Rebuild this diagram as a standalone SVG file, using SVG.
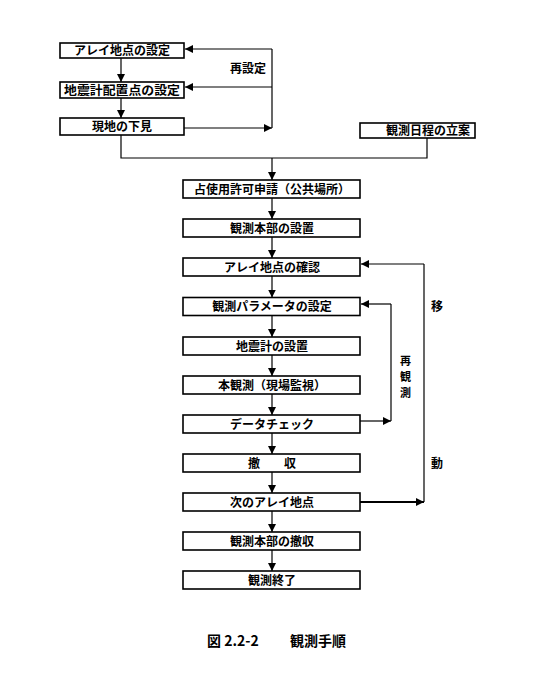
<svg xmlns="http://www.w3.org/2000/svg" width="533" height="686" viewBox="0 0 533 686">
<style>
.box{fill:#fff;stroke:#000;stroke-width:1.6}
.t{font-family:"Noto Sans CJK JP","Noto Sans CJK SC",sans-serif;font-size:12px;font-weight:bold;fill:#000;text-anchor:middle}
.lbl{font-family:"Noto Sans CJK JP","Noto Sans CJK SC",sans-serif;font-size:12px;font-weight:bold;fill:#000}
.v{font-family:"Noto Sans CJK JP","Noto Sans CJK SC",sans-serif;font-size:11px;font-weight:bold;fill:#000}
.ln{fill:none;stroke:#000;stroke-width:1.2}
</style>
<defs>
<marker id="ah" markerUnits="userSpaceOnUse" markerWidth="8" markerHeight="8" viewBox="0 0 8 8" refX="8" refY="4" orient="auto">
<path d="M0,0 L8,4 L0,8 Z" fill="#000"/>
</marker>
</defs>
<rect width="533" height="686" fill="#fff"/>
<g id="connectors">
<line class="ln" x1="121" y1="58" x2="121" y2="82" marker-end="url(#ah)"/>
<line class="ln" x1="121" y1="98" x2="121" y2="118" marker-end="url(#ah)"/>
<polyline class="ln" points="272,49 272,128"/>
<line class="ln" x1="272" y1="49" x2="185" y2="49" marker-end="url(#ah)"/>
<line class="ln" x1="272" y1="87" x2="185" y2="87" marker-end="url(#ah)"/>
<line class="ln" x1="184" y1="128" x2="272" y2="128" marker-end="url(#ah)"/>
<polyline class="ln" points="121,135 121,158 427,158 427,138"/>
<line class="ln" x1="272" y1="158" x2="272" y2="180" marker-end="url(#ah)"/>
<line class="ln" x1="272" y1="198" x2="272" y2="219" marker-end="url(#ah)"/>
<line class="ln" x1="272" y1="237" x2="272" y2="258" marker-end="url(#ah)"/>
<line class="ln" x1="272" y1="276" x2="272" y2="297.5" marker-end="url(#ah)"/>
<line class="ln" x1="272" y1="315.5" x2="272" y2="337" marker-end="url(#ah)"/>
<line class="ln" x1="272" y1="355" x2="272" y2="376" marker-end="url(#ah)"/>
<line class="ln" x1="272" y1="394" x2="272" y2="415" marker-end="url(#ah)"/>
<line class="ln" x1="272" y1="433" x2="272" y2="454" marker-end="url(#ah)"/>
<line class="ln" x1="272" y1="472" x2="272" y2="493" marker-end="url(#ah)"/>
<line class="ln" x1="272" y1="511" x2="272" y2="532" marker-end="url(#ah)"/>
<line class="ln" x1="272" y1="550" x2="272" y2="571" marker-end="url(#ah)"/>
<polyline class="ln" points="391,304 391,421"/>
<line class="ln" x1="391" y1="304" x2="361" y2="304" marker-end="url(#ah)"/>
<line class="ln" x1="360" y1="421" x2="391" y2="421" marker-end="url(#ah)"/>
<polyline class="ln" points="424,264 424,502"/>
<line class="ln" x1="424" y1="264" x2="361" y2="264" marker-end="url(#ah)"/>
<line class="ln" x1="360" y1="502" x2="424" y2="502" marker-end="url(#ah)" style="stroke-width:1.8"/>
</g>
<g id="n1"><rect class="box" x="60" y="43" width="124" height="15"/><text class="t" x="122" y="55">アレイ地点の設定</text></g>
<g id="n2"><rect class="box" x="60" y="82" width="124" height="16"/><text class="t" x="122" y="94.5" textLength="116" lengthAdjust="spacingAndGlyphs">地震計配置点の設定</text></g>
<g id="n3"><rect class="box" x="60" y="118" width="124" height="17"/><text class="t" x="122" y="131">現地の下見</text></g>
<g id="n4"><rect class="box" x="360" y="123" width="115" height="15"/><text class="t" x="428" y="135">観測日程の立案</text></g>
<g id="n5"><rect class="box" x="183" y="180" width="177" height="18"/><text class="t" x="272" y="193.5">占使用許可申請（公共場所）</text></g>
<g id="n6"><rect class="box" x="183" y="219" width="177" height="18"/><text class="t" x="272" y="232.5">観測本部の設置</text></g>
<g id="n7"><rect class="box" x="183" y="258" width="177" height="18"/><text class="t" x="272" y="271.5">アレイ地点の確認</text></g>
<g id="n8"><rect class="box" x="183" y="297.5" width="177" height="18"/><text class="t" x="272" y="311">観測パラメータの設定</text></g>
<g id="n9"><rect class="box" x="183" y="337" width="177" height="18"/><text class="t" x="272" y="350.5">地震計の設置</text></g>
<g id="n10"><rect class="box" x="183" y="376" width="177" height="18"/><text class="t" x="272" y="389.5">本観測（現場監視）</text></g>
<g id="n11"><rect class="box" x="183" y="415" width="177" height="18"/><text class="t" x="272" y="428.5">データチェック</text></g>
<g id="n12"><rect class="box" x="183" y="454" width="177" height="18"/><text class="t" x="272" y="467.5">撤　　収</text></g>
<g id="n13"><rect class="box" x="183" y="493" width="177" height="18"/><text class="t" x="272" y="506.5">次のアレイ地点</text></g>
<g id="n14"><rect class="box" x="183" y="532" width="177" height="18"/><text class="t" x="272" y="545.5">観測本部の撤収</text></g>
<g id="n15"><rect class="box" x="183" y="571" width="177" height="18"/><text class="t" x="272" y="584.5">観測終了</text></g>
<g id="labels">
<text class="lbl" x="230" y="73">再設定</text>
<text class="v" x="400" y="365">再</text>
<text class="v" x="400" y="381">観</text>
<text class="v" x="400" y="397">測</text>
<text class="lbl" x="431" y="311">移</text>
<text class="lbl" x="431" y="468">動</text>
<text class="lbl" x="207" y="646" style="font-size:14px">図 2.2-2</text>
<text class="lbl" x="290" y="646" style="font-size:14px">観測手順</text>
</g>
</svg>
